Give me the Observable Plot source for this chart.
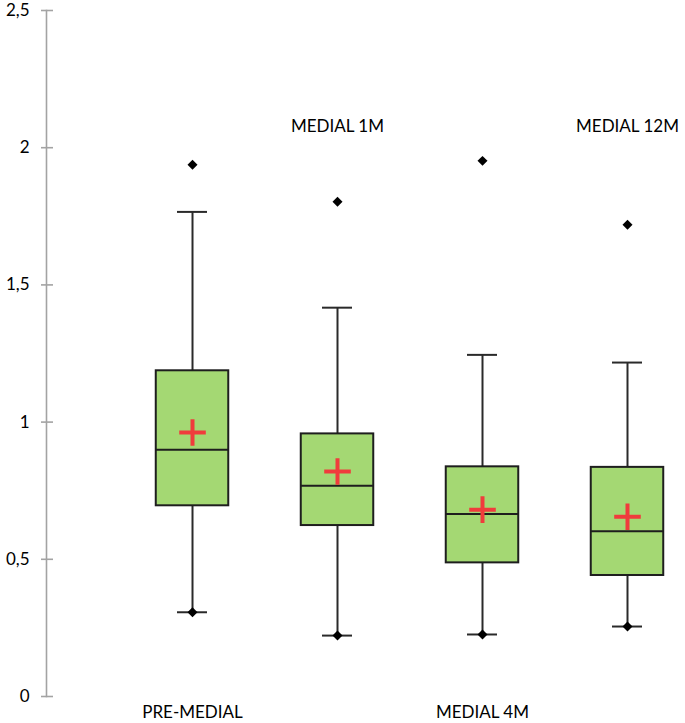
<!DOCTYPE html>
<html><head><meta charset="utf-8">
<script src="https://cdn.jsdelivr.net/npm/d3@7"></script>
<script src="https://cdn.jsdelivr.net/npm/@observablehq/plot@0.6"></script>
<style>html,body{margin:0;padding:0;background:#fff}svg{display:block}</style>
</head><body><div id="chart"></div>
<script>
const categories = ["PRE-MEDIAL", "MEDIAL 1M", "MEDIAL 4M", "MEDIAL 12M"];
const minValues = [0.307, 0.222, 0.226, 0.255];
const q1Values = [0.695, 0.623, 0.487, 0.441];
const medianValues = [0.899, 0.768, 0.665, 0.602];
const meanValues = [0.962, 0.820, 0.681, 0.655];
const q3Values = [1.187, 0.957, 0.837, 0.835];
const upperWhiskerValues = [1.766, 1.417, 1.245, 1.217];
const maxValues = [1.938, 1.803, 1.952, 1.719];
const yTicks = [0, 0.5, 1, 1.5, 2, 2.5];
const yTickLabels = ["0", "0,5", "1", "1,5", "2", "2,5"];

const rows = categories.map((cat, i) => ({
  cat, min: minValues[i], q1: q1Values[i], median: medianValues[i],
  mean: meanValues[i], q3: q3Values[i], hi: upperWhiskerValues[i], max: maxValues[i], i
}));
const bottomRows = rows.filter(d => d.i % 2 === 0);
const topRows = rows.filter(d => d.i % 2 === 1);

const axisGray = "#a3a3a3";
const dark = "#2a2a2a";

const chart = Plot.plot({
  width: 685,
  height: 723,
  marginLeft: 46,
  marginRight: 0,
  marginTop: 10,
  marginBottom: 27,
  style: {fontFamily: "Lato, 'Open Sans', sans-serif", fontSize: "17px", background: "#fff", color: "#000"},
  x: {domain: categories, paddingInner: 0.5, paddingOuter: 0.4535, align: 0.8346, round: false, axis: null},
  y: {domain: [0, 2.5]},
  marks: [
    Plot.frame({anchor: "left", stroke: axisGray, strokeWidth: 1.6}),
    Plot.axisY({ticks: yTicks, tickSize: 12, dx: 7, stroke: axisGray, strokeWidth: 1.6, tickFormat: () => ""}),
    Plot.axisY({ticks: yTicks, tickSize: 0, tickPadding: 17, fontSize: 17, fill: "#000",
      tickFormat: d => yTickLabels[yTicks.indexOf(d)]}),
    Plot.ruleX(rows, {x: "cat", y1: "q3", y2: "hi", stroke: dark, strokeWidth: 2}),
    Plot.ruleX(rows, {x: "cat", y1: "min", y2: "q1", stroke: dark, strokeWidth: 2}),
    Plot.tickY(rows, {x: "cat", y: "hi", insetLeft: 21.25, insetRight: 21.25, stroke: dark, strokeWidth: 2}),
    Plot.tickY(rows, {x: "cat", y: "min", insetLeft: 21.25, insetRight: 21.25, stroke: dark, strokeWidth: 2}),
    Plot.barY(rows, {x: "cat", y1: "q1", y2: "q3", fill: "#a4d873", stroke: "#1e1e1e", strokeWidth: 2}),
    Plot.tickY(rows, {x: "cat", y: "median", stroke: "#1e1e1e", strokeWidth: 2}),
    Plot.dot(rows, {x: "cat", y: "mean", symbol: "plus", r: 8.6, stroke: "#f03c3c", strokeWidth: 4}),
    Plot.dot(rows, {x: "cat", y: "max", symbol: "diamond2", r: 4.5, fill: "#000", stroke: "none"}),
    Plot.dot(rows, {x: "cat", y: "min", symbol: "diamond2", r: 4.5, fill: "#000", stroke: "none"}),
    Plot.text(bottomRows, {x: "cat", y: () => 0, dy: 16, text: "cat", fontSize: 17, fill: "#000"}),
    Plot.text(topRows, {x: "cat", y: () => 2, dy: -21, text: "cat", fontSize: 17, fill: "#000"})
  ]
});
document.getElementById("chart").appendChild(chart);
</script>
</body></html>
